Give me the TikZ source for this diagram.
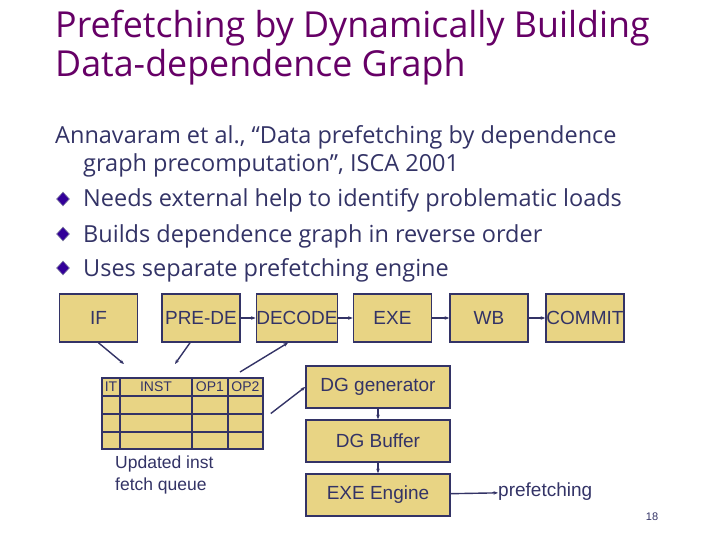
\documentclass[tikz,border=0pt]{standalone}
\usepackage{xcolor}
\usepackage{fontspec}
\usepackage{tikz}
\usetikzlibrary{arrows.meta,shapes.geometric}
\setmainfont{Open Sans}
\newfontfamily\boxfont{Liberation Sans}
\definecolor{titlec}{RGB}{102, 0, 102}
\definecolor{ink}{RGB}{51, 51, 102}
\definecolor{tan}{RGB}{232, 212, 132}
\definecolor{bulletc}{RGB}{51, 0, 153}

\begin{document}
\begin{tikzpicture}[x=1pt, y=-1pt,
    box/.style={draw=ink, fill=tan, line width=1.6pt, minimum width=78pt, minimum height=48pt,
        inner sep=0pt, text=ink, font=\boxfont\fontsize{19}{21}\selectfont},
    dgbox/.style={box, minimum width=144pt, minimum height=42pt},
    arrow/.style={-{Stealth[length=4.5pt, width=3.5pt]}, draw=ink, line width=1.4pt},
    bodytext/.style={anchor=base west, inner sep=0pt, text=ink, font=\fontsize{23.5}{26}\selectfont},
    bulletmark/.style={diamond, fill=bulletc, draw=ink!60, line width=0.6pt, inner sep=0pt,
        minimum width=13pt, minimum height=14pt},
    hdr/.style={inner sep=0pt, text=ink, font=\boxfont\fontsize{14}{16}\selectfont}
]
    \useasboundingbox (0,0) rectangle (720,540);

    % Title
    \node[anchor=base west, inner sep=0pt, text=titlec, font=\fontsize{35.8}{40}\selectfont]
        (title1) at (55,38) {Prefetching by Dynamically Building};
    \node[anchor=base west, inner sep=0pt, text=titlec, font=\fontsize{35.8}{40}\selectfont]
        (title2) at (55,77) {Data-dependence Graph};

    % Body text
    \node[bodytext] (ref1) at (55,144) {Annavaram et al., ``Data prefetching by dependence};
    \node[bodytext] (ref2) at (83,172) {graph precomputation'', ISCA 2001};
    \node[bulletmark] (b1) at (63,199) {};
    \node[bodytext] (item1) at (83,207) {Needs external help to identify problematic loads};
    \node[bulletmark] (b2) at (63,234) {};
    \node[bodytext] (item2) at (83,242) {Builds dependence graph in reverse order};
    \node[bulletmark] (b3) at (63,268) {};
    \node[bodytext] (item3) at (83,276) {Uses separate prefetching engine};

    % Pipeline
    \node[box] (if) at (98.5,318) {IF};
    \node[box] (prede) at (201,318) {PRE-DE};
    \node[box] (decode) at (297,318) {DECODE};
    \node[box] (exe) at (392.5,318) {EXE};
    \node[box] (wb) at (489,318) {WB};
    \node[box] (commit) at (585,318) {COMMIT};

    % Fetch queue
    \node[draw=ink, fill=tan, line width=1.6pt, minimum width=161pt, minimum height=71pt,
        inner sep=0pt] (queue) at (182.5,413.5) {};
    \draw[ink, line width=1.6pt] (102,396) -- (263,396) (102,414) -- (263,414) (102,432) -- (263,432);
    \draw[ink, line width=1.6pt] (120,378) -- (120,449) (192,378) -- (192,449) (228,378) -- (228,449);
    \node[hdr] (it) at (111,387) {IT};
    \node[hdr] (inst) at (156,387) {INST};
    \node[hdr] (op1) at (210,387) {OP1};
    \node[hdr] (op2) at (245.5,387) {OP2};
    \node[align=left, anchor=north west, inner sep=0pt, text=ink, font=\boxfont\fontsize{17.5}{22}\selectfont]
        (qlabel) at (115,456) {Updated inst\\fetch queue};

    % DG engine
    \node[dgbox] (dggen) at (378,387) {DG generator};
    \node[dgbox] (dgbuf) at (378,441) {DG Buffer};
    \node[dgbox] (engine) at (378,495) {EXE Engine};
    \node[anchor=west, inner sep=0pt, text=ink, font=\boxfont\fontsize{19}{21}\selectfont]
        (pref) at (498,492) {prefetching};

    % Page number
    \node[inner sep=0pt, text=ink, font=\boxfont\fontsize{11}{12}\selectfont] (page) at (652,517) {18};

    % Arrows
    \coordinate (qin1) at (124,364);
    \coordinate (qin2) at (175,364);
    \coordinate (qout1) at (240,372);
    \draw[arrow] (prede) -- (decode);
    \draw[arrow] (decode) -- (exe);
    \draw[arrow] (exe) -- (wb);
    \draw[arrow] (wb) -- (commit);
    \draw[arrow] (if.south) -- (qin1);
    \draw[arrow] ([xshift=-11pt]prede.south) -- (qin2);
    \draw[arrow] (qout1) -- ([xshift=-9pt]decode.south);
    \draw[arrow] ([xshift=7pt]queue.east) -- (dggen.west);
    \draw[arrow] (dggen) -- (dgbuf);
    \draw[arrow] (dgbuf) -- (engine);
    \draw[arrow] (engine) -- (pref);
\end{tikzpicture}
\end{document}
